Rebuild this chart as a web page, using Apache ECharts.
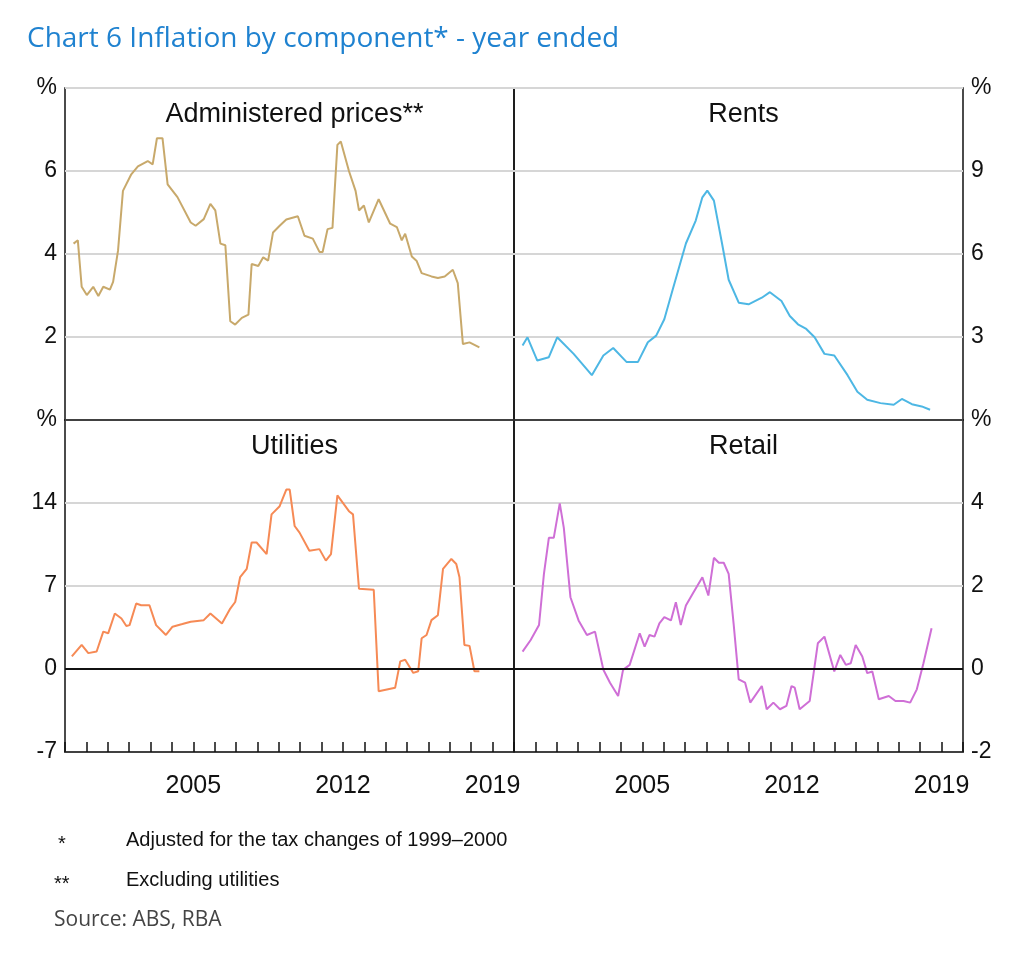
<!DOCTYPE html>
<html lang="en">
<head>
<meta charset="UTF-8">
<title>Chart 6 Inflation by component</title>
<script src="https://cdn.jsdelivr.net/npm/echarts@6/dist/echarts.min.js"></script>
<style>
  html, body { margin: 0; padding: 0; background: #fff; }
  #chart { width: 1024px; height: 953px; }
</style>
</head>
<body>
<div id="chart"></div>
<script>
// 数据：年份与同比通胀（%）
var adminX = [1999.40,1999.60,1999.78,2000.02,2000.32,2000.56,2000.79,2001.10,2001.25,2001.48,2001.71,2002.10,2002.41,2002.87,2003.10,2003.30,2003.56,2003.80,2004.26,2004.88,2005.11,2005.49,2005.80,2006.03,2006.27,2006.50,2006.73,2006.96,2007.27,2007.58,2007.73,2008.04,2008.27,2008.50,2008.73,2009.04,2009.35,2009.89,2010.20,2010.59,2010.90,2011.05,2011.28,2011.51,2011.74,2011.90,2012.28,2012.59,2012.75,2012.98,2013.21,2013.67,2014.21,2014.52,2014.75,2014.91,2015.22,2015.45,2015.68,2016.14,2016.44,2016.76,2017.14,2017.37,2017.61,2017.92,2018.38];
var adminY = [4.25,4.33,3.21,3.01,3.21,2.99,3.21,3.14,3.33,4.08,5.52,5.92,6.11,6.24,6.16,6.79,6.79,5.68,5.37,4.76,4.68,4.84,5.21,5.05,4.25,4.21,2.38,2.30,2.46,2.54,3.76,3.71,3.92,3.84,4.52,4.68,4.83,4.91,4.44,4.37,4.05,4.05,4.60,4.63,6.63,6.71,6.00,5.52,5.05,5.17,4.76,5.32,4.73,4.65,4.33,4.49,3.94,3.83,3.54,3.46,3.42,3.46,3.62,3.30,1.83,1.87,1.75];

var rentsX = [1999.40,1999.63,2000.09,2000.63,2001.02,2001.79,2002.64,2003.18,2003.64,2004.26,2004.80,2005.26,2005.65,2006.03,2006.42,2007.04,2007.50,2007.81,2008.04,2008.35,2008.73,2009.04,2009.51,2009.97,2010.59,2010.97,2011.51,2011.90,2012.28,2012.67,2013.06,2013.52,2013.98,2014.60,2015.06,2015.52,2016.14,2016.76,2017.14,2017.61,2018.07,2018.46];
var rentsY = [2.69,2.99,2.15,2.27,2.99,2.39,1.62,2.33,2.60,2.10,2.10,2.81,3.05,3.64,4.71,6.38,7.21,8.05,8.29,7.93,6.38,5.07,4.24,4.18,4.42,4.62,4.30,3.76,3.46,3.29,2.99,2.39,2.33,1.62,1.02,0.73,0.61,0.55,0.76,0.57,0.49,0.37];

var utilX = [1999.32,1999.78,2000.09,2000.48,2000.79,2001.02,2001.33,2001.64,2001.87,2002.02,2002.33,2002.56,2002.95,2003.26,2003.72,2004.03,2004.49,2004.88,2005.49,2005.80,2006.34,2006.73,2006.96,2007.19,2007.50,2007.73,2007.96,2008.43,2008.66,2009.04,2009.35,2009.51,2009.74,2009.97,2010.43,2010.90,2011.20,2011.44,2011.74,2012.28,2012.47,2012.75,2013.44,2013.67,2014.44,2014.68,2014.91,2015.29,2015.52,2015.68,2015.91,2016.14,2016.44,2016.68,2017.07,2017.30,2017.45,2017.68,2017.92,2018.15,2018.38];
var utilY = [1.06,2.03,1.34,1.48,3.15,3.01,4.68,4.26,3.62,3.70,5.52,5.38,5.38,3.70,2.87,3.57,3.79,3.98,4.12,4.68,3.84,5.10,5.65,7.74,8.44,10.67,10.67,9.69,13.04,13.73,15.13,15.13,12.06,11.50,9.97,10.11,9.14,9.69,14.65,13.31,13.04,6.77,6.69,-1.87,-1.59,0.64,0.78,-0.33,-0.19,2.59,2.87,4.12,4.54,8.44,9.28,8.86,7.74,2.03,1.95,-0.19,-0.19];

var retailX = [1999.40,1999.78,2000.17,2000.40,2000.63,2000.86,2001.14,2001.33,2001.64,2002.02,2002.41,2002.79,2003.18,2003.49,2003.87,2004.10,2004.41,2004.88,2005.11,2005.34,2005.57,2005.80,2006.03,2006.34,2006.57,2006.80,2007.04,2007.35,2007.81,2008.09,2008.35,2008.58,2008.81,2009.04,2009.27,2009.51,2009.81,2010.05,2010.59,2010.82,2011.13,2011.44,2011.74,2011.98,2012.13,2012.36,2012.83,2013.21,2013.52,2013.98,2014.26,2014.52,2014.75,2014.98,2015.29,2015.52,2015.76,2016.06,2016.53,2016.84,2017.22,2017.53,2017.84,2018.15,2018.53];
var retailY = [0.42,0.70,1.06,2.29,3.16,3.16,3.99,3.40,1.73,1.17,0.82,0.90,-0.02,-0.33,-0.65,-0.02,0.10,0.86,0.54,0.82,0.78,1.10,1.25,1.17,1.61,1.06,1.53,1.81,2.21,1.77,2.68,2.56,2.56,2.29,1.10,-0.25,-0.33,-0.81,-0.41,-0.97,-0.81,-0.97,-0.89,-0.41,-0.45,-0.97,-0.77,0.62,0.78,-0.06,0.34,0.10,0.14,0.58,0.30,-0.10,-0.06,-0.73,-0.65,-0.77,-0.77,-0.81,-0.49,0.14,0.98];

var xLabels = [2005, 2012, 2019];

function pairs(xs, ys) {
  return xs.map(function (x, i) { return [x, ys[i]]; });
}

var FONT = 'Liberation Sans';
var grids = [
  { left: 65, top: 88, width: 449, height: 332 },
  { left: 514, top: 88, width: 449, height: 332 },
  { left: 65, top: 420, width: 449, height: 332 },
  { left: 514, top: 420, width: 449, height: 332 }
];
var yDefs = [
  { min: 0, max: 8, interval: 2, pos: 'left', hideMin: true },
  { min: 0, max: 12, interval: 3, pos: 'right', hideMin: true },
  { min: -7, max: 21, interval: 7, pos: 'left', hideMin: false },
  { min: -2, max: 6, interval: 2, pos: 'right', hideMin: false }
];
var titles = ['Administered prices**', 'Rents', 'Utilities', 'Retail'];
var colors = ['#c8a96b', '#4db7e4', '#f68a55', '#cf6fd6'];
var datasets = [pairs(adminX, adminY), pairs(rentsX, rentsY), pairs(utilX, utilY), pairs(retailX, retailY)];

var myChart = echarts.init(document.getElementById('chart'));

var option = {
  backgroundColor: '#fff',
  animation: false,
  title: [{
    text: 'Chart 6 Inflation by component* - year ended',
    left: 22, top: 20,
    textStyle: { fontFamily: 'Open Sans', fontWeight: 'normal', fontSize: 28, color: '#1f82d0' }
  }].concat(titles.map(function (t, i) {
    return {
      text: t,
      left: grids[i].left + grids[i].width / 2, textAlign: 'center',
      top: grids[i].top + 8,
      textStyle: { fontFamily: FONT, fontWeight: 'normal', fontSize: 27, color: '#111' }
    };
  })),
  grid: grids.map(function (g) {
    return Object.assign({ show: true, borderColor: '#111', borderWidth: 1.5 }, g);
  }),
  xAxis: grids.map(function (g, i) {
    var bottom = i >= 2;
    return {
      type: 'value', gridIndex: i, min: 1999, max: 2020, interval: 1,
      axisLine: { show: true, onZero: false, lineStyle: { color: '#111', width: 1.5 } },
      axisTick: { show: bottom, inside: true, length: 10, lineStyle: { color: '#111', width: 1.5 } },
      axisLabel: {
        show: bottom, fontFamily: FONT, fontSize: 25, color: '#111', margin: 22,
        formatter: function (v) { return xLabels.indexOf(v) >= 0 ? String(v) : ''; }
      },
      splitLine: { show: false }
    };
  }),
  yAxis: yDefs.map(function (d, i) {
    return {
      type: 'value', gridIndex: i, min: d.min, max: d.max, interval: d.interval,
      position: d.pos,
      axisLine: { show: false }, axisTick: { show: false },
      axisLabel: {
        fontFamily: FONT, fontSize: 23, color: '#111', margin: 8,
        formatter: function (v) {
          if (v === d.max) return '%';
          if (v === d.min && d.hideMin) return '';
          return String(v);
        }
      },
      splitLine: { show: true, lineStyle: { color: '#d6d6d6', width: 2 } }
    };
  }),
  series: datasets.map(function (data, i) {
    var s = {
      type: 'line', xAxisIndex: i, yAxisIndex: i, data: data,
      showSymbol: false, lineStyle: { color: colors[i], width: 2 }
    };
    if (i >= 2) {
      s.markLine = {
        silent: true, symbol: 'none', label: { show: false },
        lineStyle: { color: '#111', width: 2, type: 'solid' },
        data: [{ yAxis: 0 }]
      };
    }
    return s;
  }),
  graphic: [
    { type: 'text', left: 58, top: 834, style: { text: '*', font: '20px Liberation Sans', fill: '#111' } },
    { type: 'text', left: 126, top: 830, style: { text: 'Adjusted for the tax changes of 1999\u20132000', font: '20px Liberation Sans', fill: '#111' } },
    { type: 'text', left: 54, top: 874, style: { text: '**', font: '20px Liberation Sans', fill: '#111' } },
    { type: 'text', left: 126, top: 870, style: { text: 'Excluding utilities', font: '20px Liberation Sans', fill: '#111' } },
    { type: 'text', left: 54, top: 910, style: { text: 'Source: ABS, RBA', font: '21px Open Sans', fill: '#444' } }
  ]
};

myChart.setOption(option);
</script>
</body>
</html>
